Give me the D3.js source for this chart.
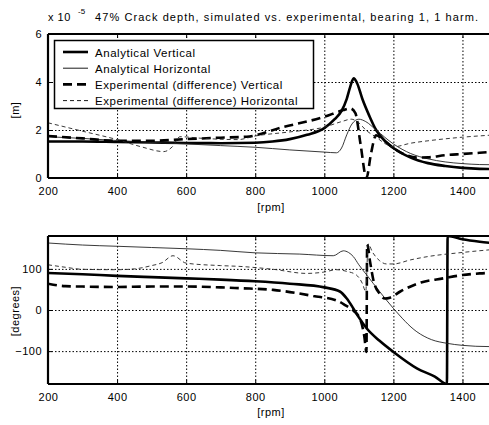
<!DOCTYPE html>
<html>
<head>
<meta charset="utf-8">
<script src="https://cdn.jsdelivr.net/npm/d3@7"></script>
<style>
  body { margin: 0; background: #fff; }
  svg { display: block; font-family: "Liberation Sans", Arial, sans-serif; }
  .tick text { font-size: 11px; letter-spacing: 0.5px; }
  .grid line { stroke: #000; stroke-width: 1px; stroke-dasharray: 1.5 2; }
  .grid .domain { display: none; }
</style>
</head>
<body>
<svg id="chart" width="489" height="425"></svg>
<script>
// amplitude, units of 1e-5 m, [rpm, value]
var ampAnalyticalVertical = [[200,1.52],[300,1.52],[400,1.5],[500,1.48],[600,1.46],[700,1.45],[800,1.47],[850,1.52],[900,1.62],[950,1.8],[1000,2.08],[1030,2.45],[1050,2.8],[1065,3.3],[1075,3.8],[1085,4.15],[1095,3.95],[1110,3.3],[1130,2.6],[1150,2.0],[1175,1.55],[1200,1.25],[1250,0.85],[1300,0.62],[1350,0.5],[1400,0.42],[1450,0.38],[1500,0.37]];
var ampAnalyticalHorizontal = [[200,1.72],[300,1.65],[400,1.56],[500,1.48],[600,1.42],[700,1.35],[800,1.28],[900,1.17],[1000,1.08],[1035,1.05],[1050,1.25],[1065,1.8],[1080,2.25],[1100,2.45],[1120,2.35],[1150,2.0],[1200,1.42],[1250,1.02],[1300,0.8],[1350,0.67],[1400,0.6],[1450,0.56],[1500,0.55]];
var ampExperimentalVertical = [[200,1.75],[300,1.65],[400,1.55],[500,1.55],[600,1.62],[700,1.68],[775,1.72],[880,2.12],[1000,2.55],[1055,2.83],[1075,2.9],[1090,2.7],[1105,1.4],[1122,0.0],[1135,1.0],[1150,1.78],[1170,1.6],[1200,1.25],[1230,1.0],[1270,0.85],[1300,0.86],[1350,0.95],[1400,1.0],[1450,1.05],[1500,1.1]];
var ampExperimentalHorizontal = [[200,2.3],[300,1.95],[400,1.6],[470,1.3],[535,1.1],[560,1.3],[582,1.72],[650,1.65],[750,1.6],[800,1.75],[900,1.92],[1000,2.12],[1050,2.35],[1078,2.45],[1100,2.3],[1120,2.0],[1150,1.7],[1180,1.4],[1200,1.3],[1250,1.45],[1300,1.55],[1400,1.7],[1500,1.8]];

// phase, degrees, [rpm, value]
var phaseAnalyticalVertical = [[200,90],[300,87],[400,83],[500,80],[600,77],[700,74],[800,70],[900,64],[1000,55],[1045,45],[1065,28],[1084,4],[1100,-18],[1123,-45],[1160,-75],[1200,-102],[1268,-142],[1320,-162],[1355,-180],[1357,180],[1400,172],[1450,166],[1500,162]];
var phaseAnalyticalHorizontal = [[200,163],[300,158],[400,155],[500,152],[600,149],[700,145],[800,139],[929,136],[1026,132],[1055,144],[1070,140],[1084,130],[1100,110],[1123,85],[1160,45],[1200,4],[1268,-53],[1310,-72],[1355,-81],[1400,-86],[1477,-89],[1500,-89]];
var phaseExperimentalVertical = [[200,64],[250,58],[300,57],[400,56],[500,57],[600,57],[700,55],[756,53],[852,49],[968,34],[1036,23],[1060,12],[1085,-2],[1105,-25],[1116,-65],[1122,-102],[1124,160],[1133,115],[1142,73],[1160,40],[1175,28],[1190,30],[1220,45],[1280,67],[1345,77],[1400,85],[1450,89],[1500,91]];
var phaseExperimentalHorizontal = [[200,110],[250,104],[300,99],[400,98],[450,100],[500,108],[530,115],[562,132],[600,114],[700,108],[756,106],[852,99],[949,89],[997,92],[1036,98],[1065,94],[1093,85],[1110,65],[1120,45],[1127,160],[1140,140],[1160,120],[1180,112],[1200,112],[1250,122],[1300,130],[1400,140],[1500,148]];

var rpmTicks = [200, 400, 600, 800, 1000, 1200, 1400];
var ampTicks = [0, 2, 4, 6];
var phaseTicks = [-100, 0, 100];

var legendLabels = ["Analytical Vertical", "Analytical Horizontal", "Experimental (difference) Vertical", "Experimental (difference) Horizontal"];

var styles = [
  {width: 2.6, dash: null},
  {width: 0.9, dash: null},
  {width: 2.6, dash: "9,5"},
  {width: 0.9, dash: "4,3"}
];

var svg = d3.select("#chart");

var x = d3.scaleLinear().domain([200, 1500]).range([48, 497]);
var yAmp = d3.scaleLinear().domain([0, 6]).range([178, 34]);
var yPhase = d3.scaleLinear().domain([-180, 180]).range([384, 236]);

function panel(id, y, ticks, series) {
    var g = svg.append("g");
    var y0 = y.range()[0], y1 = y.range()[1];
    var x0 = x.range()[0], x1 = x.range()[1];

    svg.append("clipPath").attr("id", id)
        .append("rect").attr("x", x0).attr("y", y1).attr("width", x1 - x0).attr("height", y0 - y1);

    // dotted grid, drawn as long axis ticks
    g.append("g").attr("class", "grid")
        .attr("transform", "translate(0," + y0 + ")")
        .call(d3.axisBottom(x).tickValues(rpmTicks.slice(1)).tickSize(-(y0 - y1)).tickFormat(""));
    g.append("g").attr("class", "grid")
        .attr("transform", "translate(" + x0 + ",0)")
        .call(d3.axisLeft(y).tickValues(ticks.filter(function (t) { return t > y.domain()[0] && t < y.domain()[1]; }))
            .tickSize(-(x1 - x0)).tickFormat(""));

    var line = d3.line()
        .x(function (d) { return x(d[0]); })
        .y(function (d) { return y(d[1]); })
        .curve(d3.curveMonotoneX);

    var lines = g.append("g").attr("clip-path", "url(#" + id + ")");
    series.forEach(function (s, i) {
        lines.append("path")
            .attr("d", line(s))
            .attr("fill", "none")
            .attr("stroke", i % 2 ? "#222" : "#000")
            .attr("stroke-width", styles[i].width)
            .attr("stroke-dasharray", styles[i].dash)
            .attr("stroke-linejoin", "round");
    });

    // axes
    var xAxis = g.append("g").attr("transform", "translate(0," + y0 + ")")
        .call(d3.axisBottom(x).tickValues(rpmTicks).tickSize(-4).tickPadding(9).tickFormat(d3.format("d")));
    var xTop = g.append("g").attr("transform", "translate(0," + y1 + ")")
        .call(d3.axisTop(x).tickValues(rpmTicks).tickSize(-4).tickFormat(""));
    var yAxis = g.append("g").attr("transform", "translate(" + x0 + ",0)")
        .call(d3.axisLeft(y).tickValues(ticks).tickSize(-4).tickPadding(6).tickFormat(d3.format("d")));
    [xAxis, xTop, yAxis].forEach(function (a) {
        a.select(".domain").attr("stroke-width", 2.2);
        a.selectAll(".tick line").attr("stroke-width", 1);
    });
    xAxis.select(".domain").attr("d", "M" + x0 + ",0H" + x1);
    xTop.select(".domain").attr("d", "M" + x0 + ",0H" + x1);
    yAxis.select(".domain").attr("d", "M0," + y0 + "V" + y1);
    g.selectAll(".tick text").attr("fill", "#000");
    return g;
}

panel("clipAmp", yAmp, ampTicks, [ampAnalyticalVertical, ampAnalyticalHorizontal, ampExperimentalVertical, ampExperimentalHorizontal]);
panel("clipPhase", yPhase, phaseTicks, [phaseAnalyticalVertical, phaseAnalyticalHorizontal, phaseExperimentalVertical, phaseExperimentalHorizontal]);

// legend in top panel
var legend = svg.append("g");
legend.append("rect").attr("x", 54.5).attr("y", 40.5).attr("width", 259).attr("height", 68)
    .attr("fill", "#fff").attr("stroke", "#000").attr("stroke-width", 1.5);
legendLabels.forEach(function (lab, i) {
    var yy = 52 + i * 16.2;
    legend.append("line").attr("x1", 63).attr("x2", 88).attr("y1", yy).attr("y2", yy)
        .attr("stroke", "#000").attr("stroke-width", styles[i].width)
        .attr("stroke-dasharray", styles[i].dash);
    legend.append("text").attr("x", 95).attr("y", yy + 4.5)
        .attr("font-size", 11.5).attr("letter-spacing", 0.55).text(lab);
});

// texts
svg.append("text").attr("x", 48).attr("y", 21).attr("font-size", 11).attr("letter-spacing", 0.5).text("x 10");
svg.append("text").attr("x", 78).attr("y", 14).attr("font-size", 8).text("-5");
svg.append("text").attr("x", 95).attr("y", 21).attr("font-size", 11)
    .attr("textLength", 383).attr("lengthAdjust", "spacing")
    .text("47% Crack depth, simulated vs. experimental, bearing 1, 1 harm.");

svg.append("text").attr("x", 271).attr("y", 211).attr("text-anchor", "middle")
    .attr("font-size", 11).attr("letter-spacing", 0.5).text("[rpm]");
svg.append("text").attr("x", 271).attr("y", 416).attr("text-anchor", "middle")
    .attr("font-size", 11).attr("letter-spacing", 0.5).text("[rpm]");
svg.append("text").attr("transform", "translate(19,110) rotate(-90)").attr("text-anchor", "middle")
    .attr("font-size", 11).attr("letter-spacing", 0.5).text("[m]");
svg.append("text").attr("transform", "translate(19,311) rotate(-90)").attr("text-anchor", "middle")
    .attr("font-size", 11).attr("letter-spacing", 0.5).text("[degrees]");
</script>
</body>
</html>
